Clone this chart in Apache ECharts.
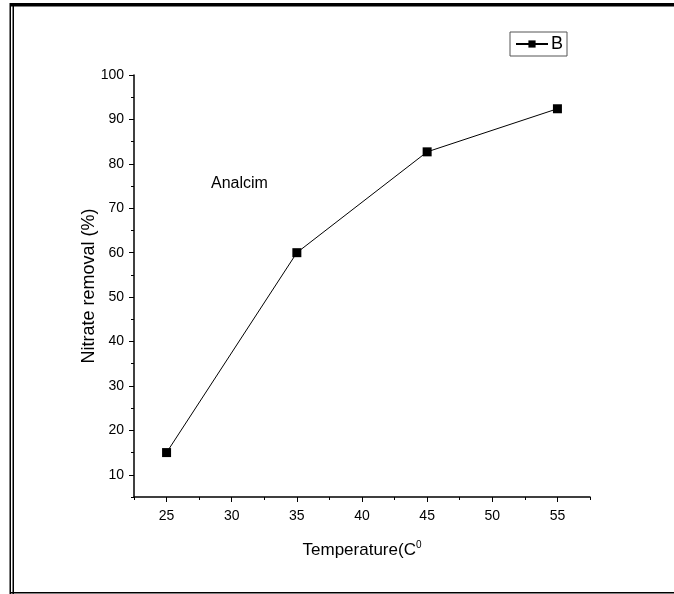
<!DOCTYPE html>
<html>
<head>
<meta charset="utf-8">
<script src="https://cdn.jsdelivr.net/npm/echarts@6/dist/echarts.min.js"></script>
<style>
  html, body { margin: 0; padding: 0; background: #fff; }
  #main { width: 674px; height: 594px; }
</style>
</head>
<body>
<div id="main"></div>
<script>
// temperature (C) vs nitrate removal (%)
const temperature = [25, 35, 45, 55]
const removal = [15, 60, 82.7, 92.4]
const xMajor = [25, 30, 35, 40, 45, 50, 55]
const yMajor = [10, 20, 30, 40, 50, 60, 70, 80, 90, 100]

const chart = echarts.init(document.getElementById('main'))
const font = 'Liberation Sans, Arial, sans-serif'

const baseAxis = {
  type: 'value',
  splitLine: { show: false },
  axisLine: { show: true, onZero: false, lineStyle: { color: '#000', width: 1.5 } },
  axisTick: { show: true, inside: false, length: 3, lineStyle: { color: '#000', width: 1 } },
  axisLabel: { color: '#000', fontFamily: font, fontSize: 14 }
}

chart.setOption({
  animation: false,
  grid: { left: 134, right: 84, top: 75, bottom: 97 },
  legend: {
    left: 510, top: 32,
    padding: [3, 4, 3, 5],
    borderColor: '#555', borderWidth: 1,
    itemWidth: 32, itemHeight: 9,
    textStyle: { color: '#000', fontFamily: font, fontSize: 18, padding: [0, 0, 0, -2] },
    data: ['B']
  },
  xAxis: [
    Object.assign({}, baseAxis, {
      min: 22.5, max: 57.5, interval: 2.5,
      name: '{a|Temperature(C}{s|0}',
      nameLocation: 'middle', nameGap: 43, nameMoveOverlap: false,
      nameTextStyle: {
        rich: {
          a: { fontFamily: font, fontSize: 17, color: '#000' },
          s: { fontFamily: font, fontSize: 10, color: '#000', padding: [0, 0, 10, 0] }
        }
      },
      axisLabel: {
        color: '#000', fontFamily: font, fontSize: 14, margin: 12,
        formatter: v => (v % 5 === 0 ? String(v) : '')
      }
    }),
    Object.assign({}, baseAxis, {
      min: 22.5, max: 57.5, position: 'bottom',
      axisLine: { show: false },
      axisTick: { show: true, length: 5, customValues: xMajor, lineStyle: { color: '#000', width: 1 } },
      axisLabel: { show: false }
    })
  ],
  yAxis: [
    Object.assign({}, baseAxis, {
      min: 5, max: 100, interval: 5,
      name: 'Nitrate removal (%)',
      nameLocation: 'middle', nameGap: 36, nameMoveOverlap: false,
      nameTextStyle: { fontFamily: font, fontSize: 18, color: '#000' },
      axisLabel: {
        color: '#000', fontFamily: font, fontSize: 14, margin: 10,
        formatter: v => (v % 10 === 0 ? String(v) : '')
      }
    }),
    Object.assign({}, baseAxis, {
      min: 5, max: 100, position: 'left',
      axisLine: { show: false },
      axisTick: { show: true, length: 5, customValues: yMajor, lineStyle: { color: '#000', width: 1 } },
      axisLabel: { show: false }
    })
  ],
  series: [{
    name: 'B',
    type: 'line',
    data: temperature.map((t, i) => [t, removal[i]]),
    symbol: 'rect',
    symbolSize: 9,
    itemStyle: { color: '#000' },
    lineStyle: { color: '#000', width: 1 }
  }],
  graphic: [
    { type: 'text', left: 211, top: 176, style: { text: 'Analcim', fill: '#000', font: '16px ' + font } },
    // frame round the figure
    { type: 'rect', shape: { x: 10, y: 3, width: 664, height: 3.5 }, style: { fill: '#000' } },
    { type: 'rect', shape: { x: 9.5, y: 3, width: 1.5, height: 591 }, style: { fill: '#000' } },
    { type: 'rect', shape: { x: 12.5, y: 3, width: 1.5, height: 591 }, style: { fill: '#000' } },
    { type: 'rect', shape: { x: 10, y: 592, width: 664, height: 1.5 }, style: { fill: '#000' } }
  ]
})
</script>
</body>
</html>
